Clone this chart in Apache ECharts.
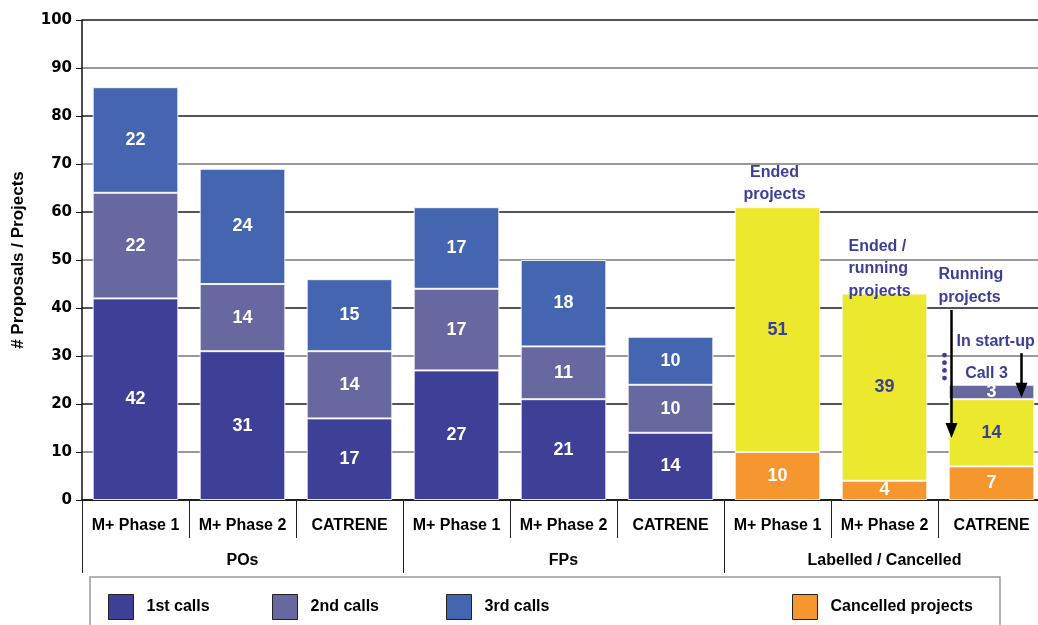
<!DOCTYPE html>
<html>
<head>
<meta charset="utf-8">
<title>Proposals / Projects</title>
<script src="https://cdn.jsdelivr.net/npm/echarts@6/dist/echarts.min.js"></script>
</head>
<body style="margin:0;background:#fff;overflow:hidden;">
<div id="main" style="width:1050px;height:625px;"></div>
<script>
// categories, two levels
var categories = ['M+ Phase 1', 'M+ Phase 2', 'CATRENE', 'M+ Phase 1', 'M+ Phase 2', 'CATRENE', 'M+ Phase 1', 'M+ Phase 2', 'CATRENE'];
var groups = ['POs', 'FPs', 'Labelled / Cancelled'];

// series values (null = no segment)
var cancelled   = [null, null, null, null, null, null, 10, 4, 7];
var firstCalls  = [42, 31, 17, 27, 21, 14, null, null, null];
var labelled    = [null, null, null, null, null, null, 51, 39, 14];
var secondCalls = [22, 14, 14, 17, 11, 10, null, null, null];
var startUp     = [null, null, null, null, null, null, null, null, 3];
var thirdCalls  = [22, 24, 15, 17, 18, 10, null, null, null];

var yTicks = [0, 100, 10];

var FONT = '"Liberation Sans", Arial, sans-serif';
var ANNO = '#3d3e96';

var chart = echarts.init(document.getElementById('main'));

function seg(name, data, color, labelColor) {
    return {
        name: name,
        type: 'bar',
        stack: 'total',
        data: data,
        barWidth: '80%',
        itemStyle: { color: color, borderColor: 'rgba(255,255,255,0.85)', borderWidth: 1 },
        label: {
            show: true,
            position: 'inside',
            color: labelColor,
            fontFamily: FONT,
            fontWeight: 'bold',
            fontSize: 18
        }
    };
}

function legendAt(name, left) {
    return {
        data: [name],
        left: left,
        top: 589,
        icon: 'rect',
        itemWidth: 25,
        itemHeight: 25,
        itemStyle: { borderColor: '#222', borderWidth: 1 },
        textStyle: { fontFamily: FONT, fontWeight: 'bold', fontSize: 16, color: '#000', padding: [0, 0, 0, 8] },
        selectedMode: false
    };
}

var option = {
    animation: false,
    grid: { left: 82, top: 20, right: 5, bottom: 125 },
    legend: [
        legendAt('1st calls', 103),
        legendAt('2nd calls', 267),
        legendAt('3rd calls', 441),
        legendAt('Cancelled projects', 787)
    ],
    xAxis: [
        {
            type: 'category',
            data: categories,
            axisLine: { lineStyle: { color: '#111', width: 1.5 } },
            axisTick: { show: true, interval: 0, length: 38, lineStyle: { color: '#222', width: 1 } },
            axisLabel: { interval: 0, margin: 18, color: '#000', fontFamily: FONT, fontWeight: 'bold', fontSize: 16 }
        },
        {
            type: 'category',
            data: groups,
            position: 'bottom',
            axisLine: { show: false },
            axisTick: { show: true, interval: 0, length: 73, lineStyle: { color: '#222', width: 1 } },
            axisLabel: { interval: 0, margin: 53, color: '#000', fontFamily: FONT, fontWeight: 'bold', fontSize: 16 }
        }
    ],
    yAxis: {
        type: 'value',
        min: yTicks[0],
        max: yTicks[1],
        interval: yTicks[2],
        name: '# Proposals / Projects',
        nameLocation: 'middle',
        nameRotate: 90,
        nameGap: 55,
        nameTextStyle: { fontFamily: FONT, fontWeight: 'bold', fontSize: 17, color: '#000' },
        axisLine: { show: true, lineStyle: { color: '#111', width: 1.5 } },
        axisTick: { show: true, length: 6, lineStyle: { color: '#111' } },
        axisLabel: { margin: 10, color: '#000', fontFamily: '"DejaVu Sans", sans-serif', fontWeight: 'bold', fontSize: 15 },
        splitLine: { lineStyle: { color: ['#1a1a1a', '#777'], width: 1.5 } }
    },
    series: [
        seg('Cancelled projects', cancelled, '#f5962f', '#fff'),
        seg('1st calls', firstCalls, '#3e3f96', '#fff'),
        seg('Labelled', labelled, '#ebe82e', ANNO),
        seg('2nd calls', secondCalls, '#67689f', '#fff'),
        seg('In start-up', startUp, '#67689f', '#fff'),
        seg('3rd calls', thirdCalls, '#4465b0', '#fff')
    ]
};
chart.setOption(option);

// annotations placed from data coordinates
function p(i, v) {
    return chart.convertToPixel({ xAxisIndex: 0, yAxisIndex: 0 }, [i, v]);
}
function txt(text, x, y, align, valign) {
    return {
        type: 'text',
        style: {
            text: text, x: x, y: y,
            fill: ANNO,
            font: 'bold 16px ' + FONT,
            lineHeight: 22.5,
            textAlign: align,
            textVerticalAlign: valign
        },
        z: 100
    };
}
function arrow(x, y0, y1) {
    return [
        { type: 'line', shape: { x1: x, y1: y0, x2: x, y2: y1 - 12 }, style: { stroke: '#000', lineWidth: 2.5 }, z: 100 },
        { type: 'polygon', shape: { points: [[x - 6, y1 - 15], [x + 6, y1 - 15], [x, y1]] }, style: { fill: '#000' }, z: 100 }
    ];
}

var a6 = p(6, labelled[6] + cancelled[6]);
var a7 = p(7, labelled[7] + cancelled[7]);
var c8 = p(8, 0)[0];
var g = [];
g.push(txt('Ended\nprojects', a6[0] - 3, a6[1] - 1, 'center', 'bottom'));
g.push(txt('Ended /\nrunning\nprojects', a7[0] - 36, a7[1] + 9, 'left', 'bottom'));
g.push(txt('Running\nprojects', c8 - 53, p(8, 49.2)[1], 'left', 'top'));
g.push(txt('In start-up', c8 - 35, p(8, 32.9)[1], 'left', 'middle'));
g.push(txt('Call 3', c8 - 5, p(8, 26.3)[1], 'center', 'middle'));
[30.2, 28.6, 27.0, 25.4].forEach(function (v) {
    var d = p(8, v);
    g.push({ type: 'circle', shape: { cx: c8 - 47, cy: d[1], r: 2.4 }, style: { fill: ANNO }, z: 100 });
});
g = g.concat(arrow(c8 - 40, p(8, 39.6)[1], p(8, 12.9)[1]));
g = g.concat(arrow(c8 + 30, p(8, 30.6)[1], p(8, 21.3)[1]));
// legend frame
g.push({ type: 'rect', shape: { x: 90, y: 577, width: 910, height: 60 }, style: { fill: 'none', stroke: '#999', lineWidth: 1.5 }, z: -1 });

chart.setOption({ graphic: g });
</script>
</body>
</html>
